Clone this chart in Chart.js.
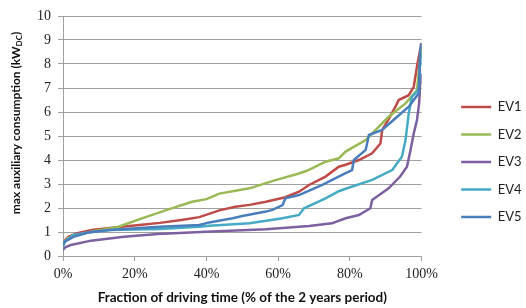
<!DOCTYPE html>
<html>
<head>
<meta charset="utf-8">
<script src="https://cdn.jsdelivr.net/npm/chart.js@4/dist/chart.umd.min.js"></script>
<style>
	html, body { margin: 0; padding: 0; background: #fff; }
</style>
</head>
<body>
<canvas id="aux-chart" width="526" height="308"></canvas>
<script>
// fraction of driving time (%) and max auxiliary consumption (kW DC)
const ev1X = [0, 0.5, 1.5, 4, 8, 15, 22, 27, 33, 38, 43.6, 48, 52, 56.6, 62, 65.8, 68.6, 73.2, 76.9, 78.8, 82.5, 86.2, 88.5, 89, 90.8, 92.7, 93.6, 96.4, 97.8, 98.7, 99.6, 99.8];
const ev1Y = [0.45, 0.65, 0.8, 0.95, 1.08, 1.2, 1.3, 1.38, 1.5, 1.62, 1.9, 2.05, 2.13, 2.26, 2.45, 2.68, 2.96, 3.31, 3.72, 3.8, 4.0, 4.28, 4.69, 5.25, 5.7, 6.22, 6.5, 6.7, 7.05, 7.9, 8.6, 8.86];

const ev2X = [0, 0.5, 1.4, 4.2, 7.8, 15.3, 22, 29, 36, 40, 43.6, 52, 59, 65.8, 68, 73.2, 76.9, 78.8, 84.4, 90.8, 95.5, 98.7, 99.6, 99.8];
const ev2Y = [0.46, 0.62, 0.75, 0.88, 1.01, 1.21, 1.57, 1.92, 2.26, 2.37, 2.6, 2.82, 3.15, 3.44, 3.55, 3.93, 4.07, 4.35, 4.83, 5.8, 6.36, 6.9, 8.3, 8.7];

const ev3X = [0, 0.5, 2.2, 7.8, 17, 26.4, 40, 56.6, 68.6, 75, 78.8, 82.5, 85.7, 86.2, 90.8, 94, 95.9, 96.9, 97.8, 98.7, 99.3, 99.6, 99.8];
const ev3Y = [0.25, 0.35, 0.46, 0.64, 0.8, 0.92, 1.01, 1.11, 1.25, 1.36, 1.57, 1.71, 1.99, 2.33, 2.82, 3.31, 3.72, 4.42, 5.11, 5.67, 6.36, 7.2, 7.6];

const ev4X = [0, 0.5, 2.9, 8, 13, 27, 38, 40.8, 52, 59, 61.2, 65.8, 67.2, 73.2, 76.9, 78.8, 86.2, 91.8, 94.5, 95.5, 96.4, 97.3, 98.7, 99.2, 99.6, 99.8];
const ev4Y = [0.4, 0.6, 0.88, 1.0, 1.08, 1.12, 1.22, 1.26, 1.36, 1.52, 1.57, 1.71, 1.99, 2.4, 2.7, 2.8, 3.17, 3.58, 4.14, 4.83, 5.94, 6.64, 6.85, 7.0, 8.0, 8.5];

const ev5X = [0, 0.5, 2.9, 7, 13, 27, 38, 40.8, 47.3, 50, 56.6, 58.4, 61.2, 62, 65.8, 72.3, 76, 78.8, 80.6, 81.1, 84.4, 85.3, 89, 92.7, 96.4, 99.2, 99.6, 100];
const ev5Y = [0.45, 0.6, 0.8, 0.98, 1.08, 1.22, 1.29, 1.4, 1.57, 1.67, 1.85, 1.92, 2.12, 2.4, 2.54, 2.96, 3.24, 3.45, 3.58, 4.0, 4.42, 5.04, 5.25, 5.74, 6.22, 6.78, 8.6, 8.86];

const seriesNames = ["EV1", "EV2", "EV3", "EV4", "EV5"];
const seriesColors = ["#BE4B48", "#98B954", "#7D60A0", "#46AAC5", "#4A7EBB"];
const xTicks = [0, 20, 40, 60, 80, 100];

const toPoints = (xs, ys) => xs.map((x, i) => ({ x, y: ys[i] }));
const allSeries = [toPoints(ev1X, ev1Y), toPoints(ev2X, ev2Y), toPoints(ev3X, ev3Y), toPoints(ev4X, ev4Y), toPoints(ev5X, ev5Y)];

const ctx = document.getElementById("aux-chart");

// y title with a "DC" subscript, drawn by hand
const yTitle = {
	id: "yTitle",
	afterDraw(chart) {
		const c = chart.ctx;
		const main = "max auxiliary consumption (kW";
		const sub = "DC";
		const end = ")";
		c.save();
		c.fillStyle = "#111";
		c.textBaseline = "middle";
		c.translate(16, 123);
		c.rotate(-Math.PI / 2);
		c.font = "bold 12px Lato";
		const w1 = c.measureText(main).width;
		const w3 = c.measureText(end).width;
		c.font = "bold 8px Lato";
		const w2 = c.measureText(sub).width;
		let x = -(w1 + w2 + w3) / 2;
		c.font = "bold 12px Lato";
		c.fillText(main, x, 0);
		x += w1;
		c.font = "bold 8px Lato";
		c.fillText(sub, x, 3);
		x += w2;
		c.font = "bold 12px Lato";
		c.fillText(end, x, 0);
		c.restore();
	},
};

// nudge the legend over to the right, like the original
const legendShift = {
	id: "legendShift",
	afterLayout(chart) {
		const lg = chart.legend;
		lg.left += 25;
		lg.right += 25;
	},
};

const datasets = allSeries.map((pts, i) => ({
	label: seriesNames[i],
	data: pts,
	borderColor: seriesColors[i],
	backgroundColor: seriesColors[i],
	borderWidth: 2.5,
	pointRadius: 0,
	pointStyle: "line",
	tension: 0,
	order: 5 - i,
}));

new Chart(ctx, {
	type: "line",
	data: { datasets },
	plugins: [yTitle, legendShift],
	options: {
		responsive: false,
		animation: false,
		layout: { padding: { top: 16, right: 19.5, left: 0, bottom: 0 } },
		scales: {
			x: {
				type: "linear",
				min: 0,
				max: 100,
				afterBuildTicks: (scale) => {
					scale.ticks = xTicks.map((v) => ({ value: v }));
				},
				afterFit: (scale) => {
					scale.height = 52;
				},
				border: { color: "#a0a0a0" },
				grid: { drawOnChartArea: false, tickLength: 5, color: "#a0a0a0" },
				ticks: {
					padding: 5,
					color: "#222",
					font: { family: "Liberation Serif", size: 14 },
					callback: (v) => v + "%",
				},
				title: {
					display: true,
					text: "Fraction of driving time (% of the 2 years period)",
					color: "#111",
					font: { family: "Lato", size: 13.5, weight: "bold" },
					padding: { top: 4, bottom: 2 },
				},
			},
			y: {
				min: 0,
				max: 10,
				afterFit: (scale) => {
					scale.width = 63;
				},
				border: { color: "#a0a0a0" },
				grid: { tickLength: 5, color: "#a0a0a0" },
				ticks: {
					stepSize: 1,
					padding: 7,
					color: "#222",
					font: { family: "Liberation Serif", size: 14 },
				},
			},
		},
		plugins: {
			legend: {
				position: "right",
				labels: {
					usePointStyle: true,
					pointStyleWidth: 30,
					padding: 14.5,
					color: "#222",
					font: { family: "Lato", size: 13 },
					sort: (a, b) => a.datasetIndex - b.datasetIndex,
				},
			},
			tooltip: { enabled: false },
		},
	},
});
</script>
</body>
</html>
